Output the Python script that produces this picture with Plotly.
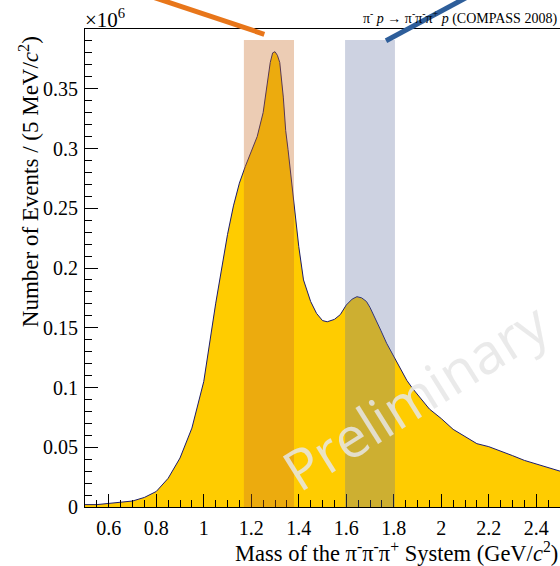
import plotly.graph_objects as go

# Invariant mass of the pi- pi- pi+ system (GeV/c^2) and events per 5 MeV (x10^6)
mass = [0.50, 0.55, 0.60, 0.65, 0.70, 0.75, 0.80, 0.85, 0.90, 0.95, 1.00, 1.05,
        1.10, 1.125, 1.15, 1.175, 1.20, 1.225, 1.25, 1.265, 1.28, 1.29, 1.30,
        1.31, 1.32, 1.335, 1.345, 1.355, 1.375, 1.40, 1.42, 1.45, 1.475, 1.50,
        1.52, 1.55, 1.575, 1.60, 1.625, 1.645, 1.665, 1.685, 1.70, 1.72, 1.745,
        1.77, 1.79, 1.81, 1.83, 1.855, 1.88, 1.91, 1.95, 2.00, 2.05, 2.10, 2.15,
        2.20, 2.25, 2.30, 2.35, 2.40, 2.45, 2.50]
events = [0.002, 0.002, 0.003, 0.004, 0.005, 0.008, 0.013, 0.024, 0.041, 0.066,
          0.105, 0.170, 0.228, 0.252, 0.271, 0.285, 0.297, 0.310, 0.330, 0.352,
          0.372, 0.380, 0.381, 0.378, 0.372, 0.343, 0.315, 0.299, 0.262, 0.218,
          0.190, 0.172, 0.162, 0.156, 0.155, 0.157, 0.161, 0.169, 0.174, 0.176,
          0.175, 0.172, 0.167, 0.159, 0.148, 0.137, 0.130, 0.123, 0.115, 0.106,
          0.099, 0.092, 0.082, 0.074, 0.065, 0.059, 0.053, 0.0505, 0.047, 0.043,
          0.039, 0.036, 0.033, 0.030]

x_tick_vals = [0.6, 0.8, 1.0, 1.2, 1.4, 1.6, 1.8, 2.0, 2.2, 2.4]
x_tick_text = ["0.6", "0.8", "1", "1.2", "1.4", "1.6", "1.8", "2", "2.2", "2.4"]
y_tick_vals = [0, 0.05, 0.10, 0.15, 0.20, 0.25, 0.30, 0.35]
y_tick_text = ["0", "0.05", "0.1", "0.15", "0.2", "0.25", "0.3", "0.35"]

# highlighted mass windows (GeV/c^2)
band_a = [1.169, 1.380]   # a2(1320) region
band_b = [1.595, 1.805]   # pi2(1670) region

SERIF = "Liberation Serif"

fig = go.Figure()
fig.add_trace(go.Scatter(
    x=mass, y=events, mode="lines", fill="tozeroy",
    fillcolor="#FFCC00", line=dict(color="#1B1B6B", width=1),
    hoverinfo="skip", showlegend=False))

fig.update_layout(
    width=560, height=566,
    margin=dict(l=85, r=0, t=29, b=59),
    paper_bgcolor="white", plot_bgcolor="white",
    font=dict(family=SERIF, color="black"),
    xaxis=dict(range=[0.5, 2.5], tickvals=x_tick_vals, ticktext=x_tick_text,
               ticks="inside", ticklen=13, tickcolor="black", tickwidth=1,
               minor=dict(ticks="inside", dtick=0.05, tick0=0, ticklen=7,
                          tickcolor="black"),
               showline=True, linecolor="black", linewidth=1, mirror=True,
               showgrid=False, zeroline=False,
               tickfont=dict(family=SERIF, size=20), ticklabelstandoff=3),
    yaxis=dict(range=[0, 0.4], tickvals=y_tick_vals, ticktext=y_tick_text,
               ticks="inside", ticklen=13, tickcolor="black", tickwidth=1,
               minor=dict(ticks="inside", dtick=0.01, tick0=0, ticklen=7,
                          tickcolor="black"),
               showline=True, linecolor="black", linewidth=1,
               showgrid=False, zeroline=False,
               tickfont=dict(family=SERIF, size=20), ticklabelstandoff=2),
)

# translucent highlight bands
fig.add_shape(type="rect", xref="x", yref="paper", x0=band_a[0], x1=band_a[1],
              y0=0, y1=0.977, fillcolor="rgba(200,110,40,0.35)", line_width=0,
              layer="above")
fig.add_shape(type="rect", xref="x", yref="paper", x0=band_b[0], x1=band_b[1],
              y0=0, y1=0.977, fillcolor="rgba(94,110,158,0.31)", line_width=0,
              layer="above")

# pointer lines
fig.add_shape(type="line", xref="paper", yref="paper", x0=0.118, y0=1.075,
              x1=0.3775, y1=0.989, line=dict(color="#E8761A", width=5),
              layer="above")
fig.add_shape(type="line", xref="paper", yref="paper", x0=0.8126, y0=1.071,
              x1=0.6337, y1=0.9755, line=dict(color="#2E5E9A", width=5),
              layer="above")

# texts
fig.add_annotation(xref="paper", yref="paper", x=-0.005, y=0.99, xanchor="left",
                   yanchor="bottom", showarrow=False,
                   text="×10<sup>6</sup>", font=dict(family=SERIF, size=21))
fig.add_annotation(xref="paper", yref="paper", x=0.998, y=1.0, xanchor="right",
                   yanchor="bottom", showarrow=False,
                   text="π<sup>-</sup> <i>p</i> → π<sup>-</sup>π<sup>-</sup>π<sup>+</sup> <i>p</i> (COMPASS 2008)",
                   font=dict(family=SERIF, size=14))
fig.add_annotation(xref="paper", yref="paper", x=0.998, y=-0.125, xanchor="right",
                   yanchor="bottom", showarrow=False, borderpad=0,
                   text="Mass of the π<sup>-</sup>π<sup>-</sup>π<sup>+</sup> System (GeV/<i>c</i><sup>2</sup>)",
                   font=dict(family=SERIF, size=22.5))
fig.add_annotation(xref="paper", yref="paper", x=-0.118, y=0.99, xanchor="center",
                   yanchor="top", showarrow=False, textangle=-90,
                   text="Number of Events / (5 MeV/<i>c</i><sup>2</sup>)",
                   font=dict(family=SERIF, size=23))
fig.add_annotation(xref="paper", yref="paper", x=0.695, y=0.234, xanchor="center",
                   yanchor="middle", showarrow=False, textangle=-32,
                   text="Preliminary",
                   font=dict(family="Open Sans", size=56, color="rgba(230,230,230,0.85)"))

fig.write_html("out.html", config={"displayModeBar": False},
               post_script="document.body.style.margin='0';document.body.style.overflow='hidden';")
